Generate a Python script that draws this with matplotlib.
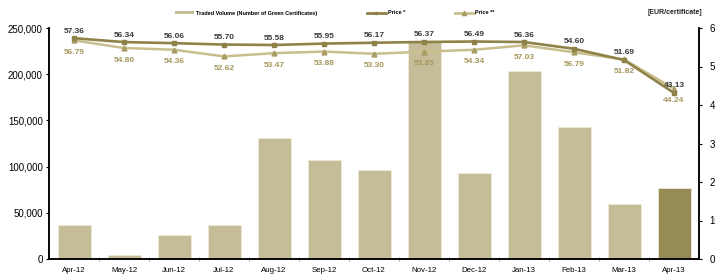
import matplotlib
matplotlib.use("Agg")
import matplotlib.pyplot as plt
from matplotlib.ticker import FuncFormatter, FixedLocator
from matplotlib.patches import Patch
from matplotlib.lines import Line2D

plt.rcParams['font.family'] = ['Liberation Sans', 'DejaVu Sans']

months = ["Apr-12", "May-12", "Jun-12", "Jul-12", "Aug-12", "Sep-12", "Oct-12",
          "Nov-12", "Dec-12", "Jan-13", "Feb-13", "Mar-13", "Apr-13"]
volume = [36800, 4300, 25600, 37000, 131000, 107000, 96300,
          235000, 92700, 203500, 143200, 59200, 76800]
price1 = [57.36, 56.34, 56.06, 55.70, 55.58, 55.95, 56.17,
          56.37, 56.49, 56.36, 54.60, 51.69, 43.13]
price1_labels = ["57.36", "56.34", "56.06", "55.70", "55.58", "55.95", "56.17",
                 "56.37", "56.49", "56.36", "54.60", "51.69", "43.13"]
price2 = [56.79, 54.80, 54.36, 52.62, 53.47, 53.88, 53.30,
          53.85, 54.34, 55.5, 53.7, 51.82, 44.24]
price2_labels = ["56.79", "54.80", "54.36", "52.62", "53.47", "53.88", "53.30",
                 "53.85", "54.34", "57.03", "56.79", "51.82", "44.24"]
left_ticks = [0, 50000, 100000, 150000, 200000, 250000]
right_ticks = [0, 10, 20, 30, 40, 50, 60]

bar_color = "#C5BD97"
bar_last = "#968B55"
line1_color = "#8E8249"
line2_color = "#C8BE8E"
lab1_color = "#3A3A3A"
lab2_color = "#A6995E"

fig = plt.figure(figsize=(7.15, 2.75), dpi=100)
ax = fig.add_axes([49/715, 1-259/275, 650/715, 231/275])
ax2 = ax.twinx()

x = list(range(len(months)))
colors = [bar_color]*(len(months)-1) + [bar_last]
ax.bar(x, volume, width=0.66, color=colors, edgecolor="#EEE9D6", linewidth=0.6, zorder=2)
ax.set_xlim(-0.5, len(months)-0.5)
ax.set_ylim(0, 250000)
ax.yaxis.set_major_locator(FixedLocator(left_ticks))
ax.yaxis.set_major_formatter(FuncFormatter(lambda v, p: f"{int(v):,}"))
ax.set_xticks(x)
ax.set_xticklabels(months, fontsize=5.7)
ax.tick_params(axis='x', which='major', length=0, pad=6)
ax.set_xticks([i + 0.5 for i in x[:-1]], minor=True)
ax.tick_params(axis='x', which='minor', length=3, direction='inout', color='#999999', width=0.6)
ax.tick_params(axis='y', labelsize=7, length=2.5, width=0.8, pad=2)

ax2.set_ylim(0, 60)
ax2.yaxis.set_major_locator(FixedLocator(right_ticks))
ax2.tick_params(axis='y', labelsize=7, length=2.5, width=0.8, pad=5)

for a in (ax, ax2):
    a.spines['top'].set_visible(False)
    for s in ('left', 'right', 'bottom'):
        a.spines[s].set_linewidth(1.1)
        a.spines[s].set_color('black')

ax2.plot(x, price2, color=line2_color, lw=1.8, marker='^', ms=3.5,
         mfc="#A89C62", mec="#A89C62", zorder=3)
ax2.plot(x, price1, color=line1_color, lw=1.9, marker='s', ms=2.5,
         mfc="#8E8249", mec="#8E8249", zorder=4)

for i in x:
    ax2.annotate(price1_labels[i], (i, price1[i]), xytext=(0, 7), textcoords='offset pixels',
                 ha='center', va='center', fontsize=6, fontweight='bold', color=lab1_color)
    ax2.annotate(price2_labels[i], (i, price2[i]), xytext=(0, -12), textcoords='offset pixels',
                 ha='center', va='center', fontsize=6, fontweight='bold', color=lab2_color)

handles = [Patch(facecolor=bar_color, edgecolor='none'),
           Line2D([], [], color=line1_color, lw=2, marker='s', ms=2),
           Line2D([], [], color=line2_color, lw=2, marker='^', ms=3, mfc="#A89C62", mec="#A89C62")]
labels = ["Traded Volume (Number of Green Certificates)", "Price *", "Price **"]
leg = fig.legend(handles, labels, loc='center', bbox_to_anchor=(335/715, 1-13/275),
                 ncol=3, frameon=False, prop={'size': 4, 'weight': 'bold'},
                 handlelength=3.4, handleheight=0.6, handletextpad=0.3, columnspacing=9)

fig.text(675/715, 1-13/275, "[EUR/certificate]", ha='center', va='center',
         fontsize=5, fontweight='bold', color='#222222')

fig.savefig("out.png", dpi=100)
